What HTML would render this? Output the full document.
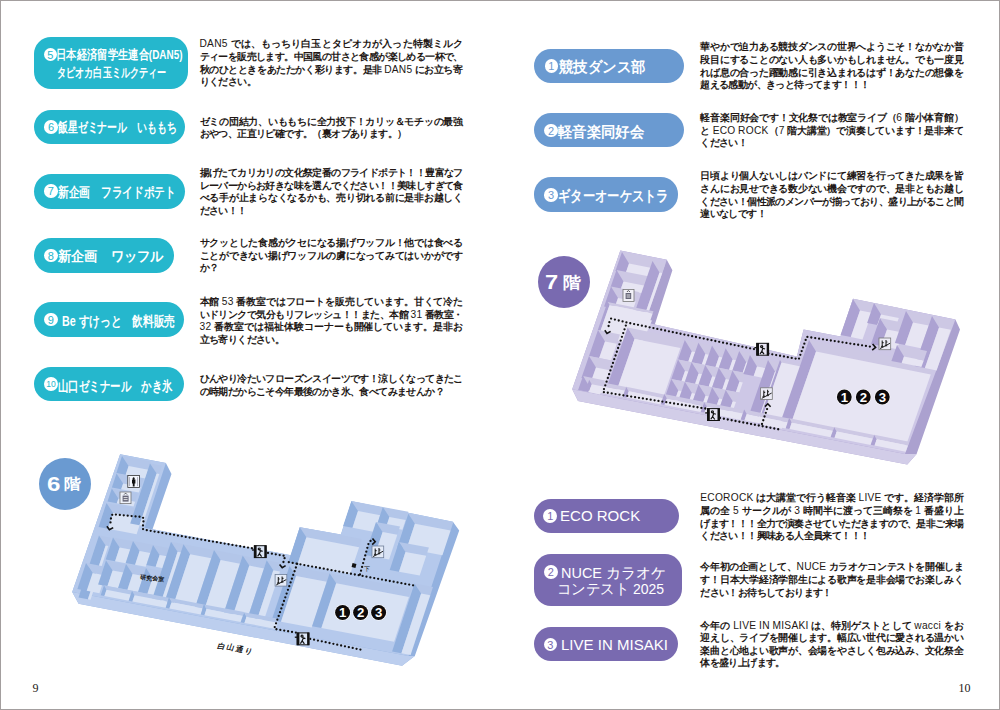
<!DOCTYPE html>
<html lang="ja"><head><meta charset="utf-8"><title>page</title>
<style>
html,body{margin:0;padding:0;background:#fff}
body{width:1000px;height:710px;position:relative;overflow:hidden;font-family:"Liberation Sans",sans-serif;color:#231815}
.frame{position:absolute;left:0;top:0;width:998px;height:708px;border:1px solid #a39e9e;z-index:10}
.pill{position:absolute}
.cn{position:absolute;background:#fff;border-radius:50%;text-align:center;font-family:"Liberation Sans",sans-serif}
.pt{position:absolute;color:#fff;white-space:nowrap;line-height:1;transform-origin:0 0;font-weight:bold}
.ln{position:absolute;font-size:10px;letter-spacing:-0.6px;font-weight:bold;line-height:12.6px;height:12.6px;white-space:nowrap;text-align:justify;text-align-last:justify;overflow:visible}
.lt{font-weight:normal;font-size:10.2px;letter-spacing:0.25px}
.ln.last{text-align:left;text-align-last:left}
.fl{position:absolute;border-radius:50%;color:#fff;text-align:center;font-weight:bold}
.pg{position:absolute;font-family:"Liberation Serif",serif;font-size:12px;line-height:12px;color:#231815}
svg{position:absolute;left:0;top:0}
</style></head><body>
<div class="frame"></div>

<svg width="1000" height="710" viewBox="0 0 1000 710">
<polygon points="120.1,454.2 165.9,463.0 171.5,473.9 152.5,529.3 291.0,555.3 299.8,527.2 340.9,534.5 351.6,501.3 452.9,521.7 459.2,530.6 414.8,655.9 402.1,665.8 78.6,603.7 72.2,592.0" fill="#93b1df"/>
<polygon points="72.2,592.0 408.5,656.0 414.8,655.9 402.1,665.8 78.6,603.7" fill="#bcceee"/>
<polygon points="120.1,454.2 165.9,463.0 144.5,527.8 291.0,555.3 299.8,527.2 340.9,534.5 351.6,501.3 452.9,521.7 408.5,656.0 72.2,592.0" fill="#b5c9ec"/>
<polygon points="620.3,250.6 666.8,259.7 672.4,270.3 654.8,324.5 796.9,356.4 803.6,329.4 840.5,336.5 853.0,298.7 955.4,319.6 960.0,329.5 916.6,453.9 907.3,464.6 578.0,401.0 572.2,389.2" fill="#aba1cf"/>
<polygon points="572.2,389.2 905.0,454.1 916.6,453.9 907.3,464.6 578.0,401.0" fill="#d2cde8"/>
<polygon points="620.3,250.6 666.8,259.7 645.1,322.3 796.9,356.4 803.6,329.4 840.5,336.5 853.0,298.7 955.4,319.6 905.0,454.1 572.2,389.2" fill="#cdc7e6"/>
<polygon points="122.0,456.0 151.0,461.5 148.3,469.7 128.6,466.0" fill="#b3c6e9"/>
<polygon points="122.0,456.0 128.6,466.0 125.7,474.8 116.4,473.0" fill="#91b0de"/>
<polygon points="128.6,466.0 148.3,469.7 145.4,478.5 125.7,474.8" fill="#d8e2f4"/>
<polygon points="116.5,473.5 143.5,478.6 140.8,486.9 123.1,483.5" fill="#b3c6e9"/>
<polygon points="116.5,473.5 123.1,483.5 121.2,489.3 111.9,487.5" fill="#91b0de"/>
<polygon points="123.1,483.5 140.8,486.9 138.9,492.6 121.2,489.3" fill="#d8e2f4"/>
<polygon points="111.8,488.5 137.8,493.4 135.1,501.7 118.4,498.5" fill="#b3c6e9"/>
<polygon points="111.8,488.5 118.4,498.5 116.8,503.3 107.5,501.5" fill="#91b0de"/>
<polygon points="118.4,498.5 135.1,501.7 133.5,506.4 116.8,503.3" fill="#d8e2f4"/>
<polygon points="106.5,503.0 144.5,510.2 141.8,518.4 113.1,513.0" fill="#b3c6e9"/>
<polygon points="106.5,503.0 113.1,513.0 107.9,528.8 98.6,527.0" fill="#91b0de"/>
<polygon points="113.1,513.0 141.8,518.4 136.6,534.2 107.9,528.8" fill="#d8e2f4"/>
<polygon points="150.0,463.5 162.0,465.8 159.3,474.0 156.6,473.5" fill="#b3c6e9"/>
<polygon points="150.0,463.5 156.6,473.5 139.5,525.3 130.2,523.5" fill="#91b0de"/>
<polygon points="156.6,473.5 159.3,474.0 142.2,525.8 139.5,525.3" fill="#d8e2f4"/>
<polygon points="99.0,535.5 111.0,537.8 108.3,546.0 105.6,545.5" fill="#b3c6e9"/>
<polygon points="99.0,535.5 105.6,545.5 87.9,599.3 78.5,597.5" fill="#91b0de"/>
<polygon points="105.6,545.5 108.3,546.0 90.5,599.8 87.9,599.3" fill="#d8e2f4"/>
<polygon points="86.0,563.0 108.0,567.2 105.3,575.4 92.6,573.0" fill="#b3c6e9"/>
<polygon points="86.0,563.0 92.6,573.0 86.7,590.8 77.4,589.0" fill="#91b0de"/>
<polygon points="92.6,573.0 105.3,575.4 99.4,593.2 86.7,590.8" fill="#d8e2f4"/>
<polygon points="113.0,537.5 133.0,541.3 130.3,549.5 119.6,547.5" fill="#b3c6e9"/>
<polygon points="113.0,537.5 119.6,547.5 115.1,561.3 105.7,559.5" fill="#91b0de"/>
<polygon points="119.6,547.5 130.3,549.5 125.7,563.3 115.1,561.3" fill="#d8e2f4"/>
<polygon points="133.0,541.0 153.0,544.8 150.3,553.0 139.6,551.0" fill="#b3c6e9"/>
<polygon points="133.0,541.0 139.6,551.0 135.1,564.8 125.7,563.0" fill="#91b0de"/>
<polygon points="139.6,551.0 150.3,553.0 145.7,566.8 135.1,564.8" fill="#d8e2f4"/>
<polygon points="153.0,545.0 171.0,548.4 168.3,556.6 159.6,555.0" fill="#b3c6e9"/>
<polygon points="153.0,545.0 159.6,555.0 155.7,566.8 146.4,565.0" fill="#91b0de"/>
<polygon points="159.6,555.0 168.3,556.6 164.4,568.4 155.7,566.8" fill="#d8e2f4"/>
<polygon points="106.0,560.5 126.0,564.3 123.3,572.5 112.6,570.5" fill="#b3c6e9"/>
<polygon points="106.0,560.5 112.6,570.5 107.4,586.3 98.1,584.5" fill="#91b0de"/>
<polygon points="112.6,570.5 123.3,572.5 118.1,588.3 107.4,586.3" fill="#d8e2f4"/>
<polygon points="126.0,564.0 146.0,567.8 143.3,576.0 132.6,574.0" fill="#b3c6e9"/>
<polygon points="126.0,564.0 132.6,574.0 127.4,589.8 118.1,588.0" fill="#91b0de"/>
<polygon points="132.6,574.0 143.3,576.0 138.1,591.8 127.4,589.8" fill="#d8e2f4"/>
<polygon points="146.0,568.0 166.0,571.8 163.3,580.0 152.6,578.0" fill="#b3c6e9"/>
<polygon points="146.0,568.0 152.6,578.0 147.4,593.8 138.1,592.0" fill="#91b0de"/>
<polygon points="152.6,578.0 163.3,580.0 158.1,595.8 147.4,593.8" fill="#d8e2f4"/>
<polygon points="171.0,541.8 184.0,544.3 181.3,552.5 177.6,551.8" fill="#b3c6e9"/>
<polygon points="171.0,541.8 177.6,551.8 160.2,604.6 150.9,602.8" fill="#91b0de"/>
<polygon points="177.6,551.8 181.3,552.5 163.9,605.3 160.2,604.6" fill="#d8e2f4"/>
<polygon points="183.5,544.3 214.0,550.1 211.3,558.3 190.1,554.3" fill="#b3c6e9"/>
<polygon points="183.5,544.3 190.1,554.3 173.7,604.1 164.4,602.3" fill="#91b0de"/>
<polygon points="190.1,554.3 211.3,558.3 194.9,608.1 173.7,604.1" fill="#d8e2f4"/>
<polygon points="214.0,550.1 242.7,555.6 240.0,563.8 220.6,560.1" fill="#b3c6e9"/>
<polygon points="214.0,550.1 220.6,560.1 204.2,609.9 194.9,608.1" fill="#91b0de"/>
<polygon points="220.6,560.1 240.0,563.8 223.6,613.6 204.2,609.9" fill="#d8e2f4"/>
<polygon points="242.7,555.6 266.7,560.2 264.0,568.4 249.3,565.6" fill="#b3c6e9"/>
<polygon points="242.7,555.6 249.3,565.6 232.9,615.4 223.6,613.6" fill="#91b0de"/>
<polygon points="249.3,565.6 264.0,568.4 247.6,618.2 232.9,615.4" fill="#d8e2f4"/>
<polygon points="266.7,560.2 282.7,563.2 280.0,571.5 273.3,570.2" fill="#b3c6e9"/>
<polygon points="266.7,560.2 273.3,570.2 256.9,620.0 247.6,618.2" fill="#91b0de"/>
<polygon points="273.3,570.2 280.0,571.5 263.6,621.2 256.9,620.0" fill="#d8e2f4"/>
<polygon points="289.5,566.0 329.5,573.6 326.8,581.8 296.1,576.0" fill="#b3c6e9"/>
<polygon points="289.5,566.0 296.1,576.0 281.0,621.8 271.7,620.0" fill="#91b0de"/>
<polygon points="296.1,576.0 326.8,581.8 311.7,627.6 281.0,621.8" fill="#d8e2f4"/>
<polygon points="329.6,573.2 411.6,588.8 408.9,597.0 336.2,583.2" fill="#b3c6e9"/>
<polygon points="329.6,573.2 336.2,583.2 321.4,628.0 312.1,626.2" fill="#91b0de"/>
<polygon points="336.2,583.2 408.9,597.0 394.1,641.8 321.4,628.0" fill="#d8e2f4"/>
<polygon points="299.8,527.2 361.8,539.0 359.1,547.2 306.4,537.2" fill="#b3c6e9"/>
<polygon points="299.8,527.2 306.4,537.2 297.6,564.0 288.2,562.2" fill="#91b0de"/>
<polygon points="306.4,537.2 359.1,547.2 350.2,574.0 297.6,564.0" fill="#d8e2f4"/>
<polygon points="351.4,501.0 382.9,507.0 380.2,515.2 358.0,511.0" fill="#b3c6e9"/>
<polygon points="351.4,501.0 358.0,511.0 352.5,527.8 343.1,526.0" fill="#91b0de"/>
<polygon points="358.0,511.0 380.2,515.2 374.6,532.0 352.5,527.8" fill="#d8e2f4"/>
<polygon points="382.8,507.0 408.3,511.8 405.6,520.1 389.4,517.0" fill="#b3c6e9"/>
<polygon points="382.8,507.0 389.4,517.0 386.2,526.8 376.9,525.0" fill="#91b0de"/>
<polygon points="389.4,517.0 405.6,520.1 402.4,529.8 386.2,526.8" fill="#d8e2f4"/>
<polygon points="408.3,513.7 453.3,522.2 450.6,530.5 414.9,523.7" fill="#b3c6e9"/>
<polygon points="408.3,513.7 414.9,523.7 406.7,548.5 397.4,546.7" fill="#91b0de"/>
<polygon points="414.9,523.7 450.6,530.5 442.4,555.2 406.7,548.5" fill="#d8e2f4"/>
<polygon points="376.0,522.0 400.0,526.6 397.3,534.8 382.6,532.0" fill="#b3c6e9"/>
<polygon points="376.0,522.0 382.6,532.0 374.4,556.8 365.1,555.0" fill="#91b0de"/>
<polygon points="382.6,532.0 397.3,534.8 389.1,559.6 374.4,556.8" fill="#d8e2f4"/>
<polygon points="398.9,541.9 428.9,547.6 426.2,555.8 405.5,551.9" fill="#b3c6e9"/>
<polygon points="398.9,541.9 405.5,551.9 399.0,571.7 389.7,569.9" fill="#91b0de"/>
<polygon points="405.5,551.9 426.2,555.8 419.7,575.6 399.0,571.7" fill="#d8e2f4"/>
<polygon points="414.5,583.5 433.0,587.0 430.3,595.2 421.1,593.5" fill="#b3c6e9"/>
<polygon points="414.5,583.5 421.1,593.5 401.4,653.3 392.1,651.5" fill="#91b0de"/>
<polygon points="421.1,593.5 430.3,595.2 410.6,655.0 401.4,653.3" fill="#d8e2f4"/>
<polygon points="104.0,585.3 132.0,590.7 130.7,594.4 106.5,589.8" fill="#b3c6e9"/>
<polygon points="104.0,585.3 106.5,589.8 104.4,596.1 100.7,595.3" fill="#91b0de"/>
<polygon points="106.5,589.8 130.7,594.4 128.7,600.7 104.4,596.1" fill="#d8e2f4"/>
<polygon points="132.0,590.7 169.0,597.7 167.7,601.5 134.5,595.2" fill="#b3c6e9"/>
<polygon points="132.0,590.7 134.5,595.2 132.4,601.4 128.7,600.7" fill="#91b0de"/>
<polygon points="134.5,595.2 167.7,601.5 165.7,607.7 132.4,601.4" fill="#d8e2f4"/>
<polygon points="169.0,597.8 204.0,604.5 202.7,608.3 171.5,602.3" fill="#b3c6e9"/>
<polygon points="169.0,597.8 171.5,602.3 169.4,608.5 165.7,607.8" fill="#91b0de"/>
<polygon points="171.5,602.3 202.7,608.3 200.7,614.5 169.4,608.5" fill="#d8e2f4"/>
<polygon points="204.0,604.5 244.0,612.1 242.7,615.9 206.5,609.0" fill="#b3c6e9"/>
<polygon points="204.0,604.5 206.5,609.0 204.4,615.3 200.7,614.5" fill="#91b0de"/>
<polygon points="206.5,609.0 242.7,615.9 240.7,622.1 204.4,615.3" fill="#d8e2f4"/>
<polygon points="244.0,612.2 279.0,618.9 277.7,622.7 246.5,616.7" fill="#b3c6e9"/>
<polygon points="244.0,612.2 246.5,616.7 244.4,622.9 240.7,622.2" fill="#91b0de"/>
<polygon points="246.5,616.7 277.7,622.7 275.7,628.9 244.4,622.9" fill="#d8e2f4"/>
<polygon points="611.5,312.5 652.0,320.5 641.0,345.0 603.0,338.0" fill="#e7e5f3"/>
<polygon points="622.0,252.0 655.0,258.6 651.8,268.0 629.0,263.4" fill="#cdc8e4"/>
<polygon points="622.0,252.0 629.0,263.4 625.7,273.0 615.4,271.0" fill="#aca2d2"/>
<polygon points="629.0,263.4 651.8,268.0 648.4,277.6 625.7,273.0" fill="#e7e5f3"/>
<polygon points="616.5,270.0 649.5,276.6 646.3,286.0 623.5,281.4" fill="#cdc8e4"/>
<polygon points="616.5,270.0 623.5,281.4 620.8,289.0 610.6,287.0" fill="#aca2d2"/>
<polygon points="623.5,281.4 646.3,286.0 643.6,293.6 620.8,289.0" fill="#e7e5f3"/>
<polygon points="611.0,286.5 639.0,292.1 635.8,301.5 618.0,297.9" fill="#cdc8e4"/>
<polygon points="611.0,286.5 618.0,297.9 614.3,308.5 604.1,306.5" fill="#aca2d2"/>
<polygon points="618.0,297.9 635.8,301.5 632.1,312.1 614.3,308.5" fill="#e7e5f3"/>
<polygon points="652.5,261.0 665.5,263.6 662.3,273.0 659.5,272.4" fill="#cdc8e4"/>
<polygon points="652.5,261.0 659.5,272.4 643.7,318.0 633.4,316.0" fill="#aca2d2"/>
<polygon points="659.5,272.4 662.3,273.0 646.4,318.6 643.7,318.0" fill="#e7e5f3"/>
<polygon points="607.5,302.0 653.5,311.2 652.7,313.6 609.5,305.0" fill="#cdc8e4"/>
<polygon points="607.5,302.0 609.5,305.0 600.6,330.6 597.8,330.0" fill="#aca2d2"/>
<polygon points="609.5,305.0 652.7,313.6 643.8,339.2 600.6,330.6" fill="#e7e5f3"/>
<polygon points="598.0,330.0 620.0,334.4 616.8,343.8 605.0,341.4" fill="#cdc8e4"/>
<polygon points="598.0,330.0 605.0,341.4 599.2,358.0 589.0,356.0" fill="#aca2d2"/>
<polygon points="605.0,341.4 616.8,343.8 611.0,360.4 599.2,358.0" fill="#e7e5f3"/>
<polygon points="589.0,356.0 613.0,360.8 609.8,370.2 596.0,367.4" fill="#cdc8e4"/>
<polygon points="589.0,356.0 596.0,367.4 591.6,380.0 581.4,378.0" fill="#aca2d2"/>
<polygon points="596.0,367.4 609.8,370.2 605.4,382.8 591.6,380.0" fill="#e7e5f3"/>
<polygon points="583.0,376.0 605.0,380.4 601.8,389.8 590.0,387.4" fill="#cdc8e4"/>
<polygon points="583.0,376.0 590.0,387.4 588.4,392.0 578.1,390.0" fill="#aca2d2"/>
<polygon points="590.0,387.4 601.8,389.8 600.1,394.4 588.4,392.0" fill="#e7e5f3"/>
<polygon points="627.6,327.5 683.6,338.7 680.4,348.1 634.6,338.9" fill="#cdc8e4"/>
<polygon points="627.6,327.5 634.6,338.9 617.0,389.5 606.8,387.5" fill="#aca2d2"/>
<polygon points="634.6,338.9 680.4,348.1 662.8,398.7 617.0,389.5" fill="#e7e5f3"/>
<polygon points="684.8,340.0 698.4,342.7 695.2,352.1 691.8,351.4" fill="#cdc8e4"/>
<polygon points="684.8,340.0 691.8,351.4 688.3,361.5 678.0,359.5" fill="#aca2d2"/>
<polygon points="691.8,351.4 695.2,352.1 691.6,362.2 688.3,361.5" fill="#e7e5f3"/>
<polygon points="698.4,342.7 712.0,345.4 708.8,354.8 705.4,354.1" fill="#cdc8e4"/>
<polygon points="698.4,342.7 705.4,354.1 701.9,364.3 691.6,362.2" fill="#aca2d2"/>
<polygon points="705.4,354.1 708.8,354.8 705.2,364.9 701.9,364.3" fill="#e7e5f3"/>
<polygon points="712.0,345.4 725.6,348.2 722.4,357.5 719.0,356.8" fill="#cdc8e4"/>
<polygon points="712.0,345.4 719.0,356.8 715.5,367.0 705.2,364.9" fill="#aca2d2"/>
<polygon points="719.0,356.8 722.4,357.5 718.8,367.7 715.5,367.0" fill="#e7e5f3"/>
<polygon points="725.6,348.2 739.2,350.9 736.0,360.2 732.6,359.6" fill="#cdc8e4"/>
<polygon points="725.6,348.2 732.6,359.6 729.1,369.7 718.8,367.7" fill="#aca2d2"/>
<polygon points="732.6,359.6 736.0,360.2 732.4,370.4 729.1,369.7" fill="#e7e5f3"/>
<polygon points="739.2,350.9 752.8,353.6 749.6,363.0 746.2,362.3" fill="#cdc8e4"/>
<polygon points="739.2,350.9 746.2,362.3 742.7,372.4 732.4,370.4" fill="#aca2d2"/>
<polygon points="746.2,362.3 749.6,363.0 746.0,373.1 742.7,372.4" fill="#e7e5f3"/>
<polygon points="678.0,359.5 691.6,362.2 688.4,371.6 685.0,370.9" fill="#cdc8e4"/>
<polygon points="678.0,359.5 685.0,370.9 681.5,381.0 671.3,379.0" fill="#aca2d2"/>
<polygon points="685.0,370.9 688.4,371.6 684.9,381.7 681.5,381.0" fill="#e7e5f3"/>
<polygon points="691.6,362.2 705.2,364.9 702.0,374.3 698.6,373.6" fill="#cdc8e4"/>
<polygon points="691.6,362.2 698.6,373.6 695.1,383.8 684.9,381.7" fill="#aca2d2"/>
<polygon points="698.6,373.6 702.0,374.3 698.5,384.4 695.1,383.8" fill="#e7e5f3"/>
<polygon points="705.2,364.9 718.8,367.7 715.6,377.0 712.2,376.3" fill="#cdc8e4"/>
<polygon points="705.2,364.9 712.2,376.3 708.7,386.5 698.5,384.4" fill="#aca2d2"/>
<polygon points="712.2,376.3 715.6,377.0 712.1,387.2 708.7,386.5" fill="#e7e5f3"/>
<polygon points="718.8,367.7 732.4,370.4 729.2,379.7 725.8,379.1" fill="#cdc8e4"/>
<polygon points="718.8,367.7 725.8,379.1 722.3,389.2 712.1,387.2" fill="#aca2d2"/>
<polygon points="725.8,379.1 729.2,379.7 725.7,389.9 722.3,389.2" fill="#e7e5f3"/>
<polygon points="732.4,370.4 746.0,373.1 742.8,382.5 739.4,381.8" fill="#cdc8e4"/>
<polygon points="732.4,370.4 739.4,381.8 735.9,391.9 725.7,389.9" fill="#aca2d2"/>
<polygon points="739.4,381.8 742.8,382.5 739.3,392.6 735.9,391.9" fill="#e7e5f3"/>
<polygon points="671.3,379.0 684.9,381.7 681.6,391.1 678.3,390.4" fill="#cdc8e4"/>
<polygon points="671.3,379.0 678.3,390.4 674.7,400.5 664.5,398.5" fill="#aca2d2"/>
<polygon points="678.3,390.4 681.6,391.1 678.1,401.2 674.7,400.5" fill="#e7e5f3"/>
<polygon points="684.9,381.7 698.5,384.4 695.2,393.8 691.9,393.1" fill="#cdc8e4"/>
<polygon points="684.9,381.7 691.9,393.1 688.3,403.3 678.1,401.2" fill="#aca2d2"/>
<polygon points="691.9,393.1 695.2,393.8 691.7,403.9 688.3,403.3" fill="#e7e5f3"/>
<polygon points="698.5,384.4 712.1,387.2 708.8,396.5 705.5,395.8" fill="#cdc8e4"/>
<polygon points="698.5,384.4 705.5,395.8 701.9,406.0 691.7,403.9" fill="#aca2d2"/>
<polygon points="705.5,395.8 708.8,396.5 705.3,406.7 701.9,406.0" fill="#e7e5f3"/>
<polygon points="712.1,387.2 725.7,389.9 722.4,399.2 719.1,398.6" fill="#cdc8e4"/>
<polygon points="712.1,387.2 719.1,398.6 715.5,408.7 705.3,406.7" fill="#aca2d2"/>
<polygon points="719.1,398.6 722.4,399.2 718.9,409.4 715.5,408.7" fill="#e7e5f3"/>
<polygon points="725.7,389.9 739.3,392.6 736.0,402.0 732.7,401.3" fill="#cdc8e4"/>
<polygon points="725.7,389.9 732.7,401.3 729.1,411.4 718.9,409.4" fill="#aca2d2"/>
<polygon points="732.7,401.3 736.0,402.0 732.5,412.1 729.1,411.4" fill="#e7e5f3"/>
<polygon points="750.0,355.0 770.0,359.0 766.8,368.4 757.0,366.4" fill="#cdc8e4"/>
<polygon points="750.0,355.0 757.0,366.4 753.7,376.0 743.4,374.0" fill="#aca2d2"/>
<polygon points="757.0,366.4 766.8,368.4 763.4,378.0 753.7,376.0" fill="#e7e5f3"/>
<polygon points="768.0,360.0 780.0,362.4 776.8,371.8 775.0,371.4" fill="#cdc8e4"/>
<polygon points="768.0,360.0 775.0,371.4 758.1,420.0 747.9,418.0" fill="#aca2d2"/>
<polygon points="775.0,371.4 776.8,371.8 759.9,420.4 758.1,420.0" fill="#e7e5f3"/>
<polygon points="780.0,360.0 804.0,364.8 803.3,366.9 781.5,362.5" fill="#cdc8e4"/>
<polygon points="780.0,360.0 781.5,362.5 760.0,424.4 757.8,424.0" fill="#aca2d2"/>
<polygon points="781.5,362.5 803.3,366.9 781.8,428.8 760.0,424.4" fill="#e7e5f3"/>
<polygon points="809.0,340.0 934.0,365.0 930.8,374.4 816.0,351.4" fill="#cdc8e4"/>
<polygon points="809.0,340.0 816.0,351.4 790.8,424.0 780.5,422.0" fill="#aca2d2"/>
<polygon points="816.0,351.4 930.8,374.4 905.5,447.0 790.8,424.0" fill="#e7e5f3"/>
<polygon points="853.0,299.0 875.0,303.4 871.8,312.8 860.0,310.4" fill="#cdc8e4"/>
<polygon points="853.0,299.0 860.0,310.4 850.8,337.0 840.5,335.0" fill="#aca2d2"/>
<polygon points="860.0,310.4 871.8,312.8 862.5,339.4 850.8,337.0" fill="#e7e5f3"/>
<polygon points="874.0,303.0 902.0,308.6 898.8,318.0 881.0,314.4" fill="#cdc8e4"/>
<polygon points="874.0,303.0 881.0,314.4 877.3,325.0 867.1,323.0" fill="#aca2d2"/>
<polygon points="881.0,314.4 898.8,318.0 895.1,328.6 877.3,325.0" fill="#e7e5f3"/>
<polygon points="880.0,318.0 906.0,323.2 902.8,332.6 887.0,329.4" fill="#cdc8e4"/>
<polygon points="880.0,318.0 887.0,329.4 881.2,346.0 871.0,344.0" fill="#aca2d2"/>
<polygon points="887.0,329.4 902.8,332.6 897.0,349.2 881.2,346.0" fill="#e7e5f3"/>
<polygon points="906.0,311.0 932.0,316.2 928.8,325.6 913.0,322.4" fill="#cdc8e4"/>
<polygon points="906.0,311.0 913.0,322.4 905.1,345.0 894.9,343.0" fill="#aca2d2"/>
<polygon points="913.0,322.4 928.8,325.6 920.9,348.2 905.1,345.0" fill="#e7e5f3"/>
<polygon points="932.0,316.0 954.0,320.4 950.8,329.8 939.0,327.4" fill="#cdc8e4"/>
<polygon points="932.0,316.0 939.0,327.4 924.9,368.0 914.6,366.0" fill="#aca2d2"/>
<polygon points="939.0,327.4 950.8,329.8 936.6,370.4 924.9,368.0" fill="#e7e5f3"/>
<polygon points="897.0,345.0 927.0,351.0 923.8,360.4 904.0,356.4" fill="#cdc8e4"/>
<polygon points="897.0,345.0 904.0,356.4 901.7,363.0 891.4,361.0" fill="#aca2d2"/>
<polygon points="904.0,356.4 923.8,360.4 921.4,367.0 901.7,363.0" fill="#e7e5f3"/>
<polygon points="589.2,379.7 626.2,387.1 624.9,390.8 591.7,384.2" fill="#cdc8e4"/>
<polygon points="589.2,379.7 591.7,384.2 589.5,390.4 585.7,389.7" fill="#aca2d2"/>
<polygon points="591.7,384.2 624.9,390.8 622.7,397.1 589.5,390.4" fill="#e7e5f3"/>
<polygon points="626.2,386.8 664.2,394.4 662.9,398.2 628.7,391.3" fill="#cdc8e4"/>
<polygon points="626.2,386.8 628.7,391.3 626.5,397.6 622.7,396.8" fill="#aca2d2"/>
<polygon points="628.7,391.3 662.9,398.2 660.7,404.4 626.5,397.6" fill="#e7e5f3"/>
<polygon points="664.2,394.1 704.2,402.1 702.9,405.9 666.7,398.6" fill="#cdc8e4"/>
<polygon points="664.2,394.1 666.7,398.6 664.5,404.9 660.7,404.1" fill="#aca2d2"/>
<polygon points="666.7,398.6 702.9,405.9 700.7,412.1 664.5,404.9" fill="#e7e5f3"/>
<polygon points="704.2,401.9 744.2,409.9 742.9,413.6 706.7,406.4" fill="#cdc8e4"/>
<polygon points="704.2,401.9 706.7,406.4 704.5,412.6 700.7,411.9" fill="#aca2d2"/>
<polygon points="706.7,406.4 742.9,413.6 740.7,419.9 704.5,412.6" fill="#e7e5f3"/>
<polygon points="744.2,409.6 789.2,418.6 787.9,422.3 746.7,414.1" fill="#cdc8e4"/>
<polygon points="744.2,409.6 746.7,414.1 744.5,420.3 740.7,419.6" fill="#aca2d2"/>
<polygon points="746.7,414.1 787.9,422.3 785.7,428.6 744.5,420.3" fill="#e7e5f3"/>
<polygon points="789.2,418.3 834.2,427.3 832.9,431.0 791.7,422.8" fill="#cdc8e4"/>
<polygon points="789.2,418.3 791.7,422.8 789.5,429.0 785.7,428.3" fill="#aca2d2"/>
<polygon points="791.7,422.8 832.9,431.0 830.7,437.3 789.5,429.0" fill="#e7e5f3"/>
<polygon points="834.2,427.0 874.2,435.0 872.9,438.7 836.7,431.5" fill="#cdc8e4"/>
<polygon points="834.2,427.0 836.7,431.5 834.5,437.7 830.7,437.0" fill="#aca2d2"/>
<polygon points="836.7,431.5 872.9,438.7 870.7,445.0 834.5,437.7" fill="#e7e5f3"/>
<polygon points="874.2,434.7 909.2,441.7 907.9,445.4 876.7,439.2" fill="#cdc8e4"/>
<polygon points="874.2,434.7 876.7,439.2 874.5,445.4 870.7,444.7" fill="#aca2d2"/>
<polygon points="876.7,439.2 907.9,445.4 905.7,451.7 874.5,445.4" fill="#e7e5f3"/>
<path d="M110.5,522.4 L111.2,516.5 L112.6,514.3 L142.2,517.0 L143.8,518.5 L142.6,528.8 L144.5,529.8 L254.0,548.6" fill="none" stroke="#111" stroke-width="2.3" stroke-linecap="round" stroke-linejoin="round" stroke-dasharray="0 3.95"/>
<path d="M268.0,553.0 L285.2,556.0 L284.0,560.2 L282.8,564.2" fill="none" stroke="#111" stroke-width="2.3" stroke-linecap="round" stroke-linejoin="round" stroke-dasharray="0 3.95"/>
<path d="M279.6,564.6 L282.2,567.6 L285.6,565.6" fill="none" stroke="#111" stroke-width="1.6" stroke-linecap="butt" stroke-linejoin="miter"/>
<path d="M288.8,562.2 L414.0,585.5" fill="none" stroke="#111" stroke-width="2.3" stroke-linecap="round" stroke-linejoin="round" stroke-dasharray="0 3.95"/>
<path d="M297.2,563.8 L274.2,628.6 L276.0,629.2 L296.0,632.6" fill="none" stroke="#111" stroke-width="2.3" stroke-linecap="round" stroke-linejoin="round" stroke-dasharray="0 3.95"/>
<path d="M310.2,638.9 L363.7,650.3" fill="none" stroke="#111" stroke-width="2.3" stroke-linecap="round" stroke-linejoin="round" stroke-dasharray="0 3.95"/>
<path d="M360.0,574.5 L368.8,542.5 L371.0,540.5 L372.4,541.0" fill="none" stroke="#111" stroke-width="2.3" stroke-linecap="round" stroke-linejoin="round" stroke-dasharray="0 3.95"/>
<path d="M372.5,538.6 L375.2,541.8 L372.2,544.6" fill="none" stroke="#111" stroke-width="1.6" stroke-linecap="butt" stroke-linejoin="miter"/>
<path d="M106.9,526.2 L109.4,529.8 L113.2,527.6" fill="none" stroke="#111" stroke-width="1.6" stroke-linecap="butt" stroke-linejoin="miter"/>
<g transform="translate(254.0,545.4)"><rect x="0" y="0" width="12.5" height="12.5" fill="#dce6f6"/><rect x="0.3" y="0.3" width="11.9" height="11.9" fill="none" stroke="#111" stroke-width="1"/><rect x="0" y="0" width="2.6" height="12.5" fill="#111"/><rect x="10.3" y="0" width="2.2" height="12.5" fill="#111"/><path d="M5.2,2.6 a1,1 0 1,0 0.1,0 M4.8,4.2 L6.6,5.2 L8.6,6.0 M6.6,5.2 L5.4,8.2 L7.6,11.2 M5.4,8.2 L3.6,11" stroke="#111" stroke-width="1.2" fill="none"/><path d="M-2,4.6 L2,4.6" stroke="#111" stroke-width="1.3"/></g>
<g transform="translate(296.8,632.6)"><rect x="0" y="0" width="12.5" height="12.5" fill="#dce6f6"/><rect x="0.3" y="0.3" width="11.9" height="11.9" fill="none" stroke="#111" stroke-width="1"/><rect x="0" y="0" width="2.6" height="12.5" fill="#111"/><rect x="10.3" y="0" width="2.2" height="12.5" fill="#111"/><path d="M5.2,2.6 a1,1 0 1,0 0.1,0 M4.8,4.2 L6.6,5.2 L8.6,6.0 M6.6,5.2 L5.4,8.2 L7.6,11.2 M5.4,8.2 L3.6,11" stroke="#111" stroke-width="1.2" fill="none"/><path d="M-2,4.6 L2,4.6" stroke="#111" stroke-width="1.3"/></g>
<g transform="translate(371.6,545.6)"><rect x="0.4" y="0.4" width="11.7" height="11.7" fill="#e4ebf8" stroke="#6f7f99" stroke-width="0.8"/><path d="M1.5,11.0 L11.5,5.625" stroke="#222" stroke-width="1"/><path d="M3.6,3 L3.6,8 M3.2,5 L5,5 M3.6,8 L2.6,9.8 M3.6,8 L4.6,9.6 M7.4,2.4 L7.4,7 M7,4.4 L8.8,4.4 M7.4,7 L6.6,8.8 M7.4,7 L8.4,8.6" stroke="#222" stroke-width="1.1" fill="none"/></g>
<g transform="translate(274.7,574.0)"><rect x="0.4" y="0.4" width="11.7" height="11.7" fill="#e4ebf8" stroke="#6f7f99" stroke-width="0.8"/><path d="M1.5,11.0 L11.5,5.625" stroke="#222" stroke-width="1"/><path d="M3.6,3 L3.6,8 M3.2,5 L5,5 M3.6,8 L2.6,9.8 M3.6,8 L4.6,9.6 M7.4,2.4 L7.4,7 M7,4.4 L8.8,4.4 M7.4,7 L6.6,8.8 M7.4,7 L8.4,8.6" stroke="#222" stroke-width="1.1" fill="none"/></g>
<g transform="translate(127.4,475.1)"><rect x="0.4" y="0.4" width="11.6" height="12.0" fill="#f4f7fd" stroke="#333" stroke-width="0.8"/><path d="M6.2,2.2 a1.1,1.1 0 1,0 0.1,0 M4.6,4.4 h3.4 v4 h-0.8 v3 h-1.8 v-3 h-0.8 z" fill="#111"/><rect x="2" y="2" width="0.6" height="9" fill="#889"/><rect x="9.8" y="2" width="0.6" height="9" fill="#889"/></g>
<g transform="translate(119.6,491.6)"><rect x="0.4" y="0.4" width="11.0" height="11.6" fill="#eef2fa" stroke="#777" stroke-width="0.8"/><path d="M3,4 h6 v6 h-6 z" fill="#667" /><path d="M4,6 h4 M4,8 h4" stroke="#fff" stroke-width="0.8"/><path d="M6,1.5 L4.5,3 M6,1.5 L7.5,3" stroke="#333" stroke-width="0.8" fill="none"/></g>
<rect x="352" y="563.5" width="4" height="4" fill="#111" transform="rotate(15 354 565.5)"/>
<text x="364" y="571" font-size="5.5" fill="#222" font-family="Liberation Sans">下</text>
<text x="140.5" y="579.2" font-size="6" font-weight="bold" fill="#111" transform="rotate(6 140 578)" font-family="Liberation Sans">研究会室</text>
<g transform="translate(217.4,647.6) rotate(10.5) skewX(-8)"><text x="0" y="0" font-size="7.6" font-weight="bold" fill="#111" font-family="Liberation Sans" letter-spacing="1.2">白山通り</text></g>
<circle cx="342.6" cy="612.5" r="8.1" fill="#fff"/><circle cx="342.6" cy="612.5" r="7.5" fill="#0d0a0b"/>
<text x="342.6" y="617.2" text-anchor="middle" font-family="Liberation Sans" font-weight="bold" font-size="13.2" fill="#fff">1</text>
<circle cx="360.6" cy="612.5" r="8.1" fill="#fff"/><circle cx="360.6" cy="612.5" r="7.5" fill="#0d0a0b"/>
<text x="360.6" y="617.2" text-anchor="middle" font-family="Liberation Sans" font-weight="bold" font-size="13.2" fill="#fff">2</text>
<circle cx="378.6" cy="612.5" r="8.1" fill="#fff"/><circle cx="378.6" cy="612.5" r="7.5" fill="#0d0a0b"/>
<text x="378.6" y="617.2" text-anchor="middle" font-family="Liberation Sans" font-weight="bold" font-size="13.2" fill="#fff">3</text>
<path d="M608.6,326.0 L609.6,321.0 L611.1,318.6 L627.2,322.6 L756.4,349.6" fill="none" stroke="#111" stroke-width="2.3" stroke-linecap="round" stroke-linejoin="round" stroke-dasharray="0 3.95"/>
<path d="M604.8,330.2 L607.0,333.4 L610.6,331.4" fill="none" stroke="#111" stroke-width="1.6" stroke-linecap="butt" stroke-linejoin="miter"/>
<path d="M768.4,353.6 L798.8,359.2 L806.8,336.8 L871.5,346.8" fill="none" stroke="#111" stroke-width="2.3" stroke-linecap="round" stroke-linejoin="round" stroke-dasharray="0 3.95"/>
<path d="M872.6,344.0 L875.6,347.4 L872.2,350.2" fill="none" stroke="#111" stroke-width="1.6" stroke-linecap="butt" stroke-linejoin="miter"/>
<path d="M625.8,325.6 L603.0,392.0 L707.0,408.8" fill="none" stroke="#111" stroke-width="2.3" stroke-linecap="round" stroke-linejoin="round" stroke-dasharray="0 3.95"/>
<path d="M720.0,418.0 L782.0,430.0" fill="none" stroke="#111" stroke-width="2.3" stroke-linecap="round" stroke-linejoin="round" stroke-dasharray="0 3.95"/>
<path d="M762.0,424.0 L767.6,407.5" fill="none" stroke="#111" stroke-width="2.3" stroke-linecap="round" stroke-linejoin="round" stroke-dasharray="0 3.95"/>
<path d="M765.0,406.6 L767.8,403.8 L770.6,406.8" fill="none" stroke="#111" stroke-width="1.6" stroke-linecap="butt" stroke-linejoin="miter"/>
<g transform="translate(756.4,343.0)"><rect x="0" y="0" width="12.5" height="12.5" fill="#e7e5f3"/><rect x="0.3" y="0.3" width="11.9" height="11.9" fill="none" stroke="#111" stroke-width="1"/><rect x="0" y="0" width="2.6" height="12.5" fill="#111"/><rect x="10.3" y="0" width="2.2" height="12.5" fill="#111"/><path d="M5.2,2.6 a1,1 0 1,0 0.1,0 M4.8,4.2 L6.6,5.2 L8.6,6.0 M6.6,5.2 L5.4,8.2 L7.6,11.2 M5.4,8.2 L3.6,11" stroke="#111" stroke-width="1.2" fill="none"/><path d="M-2,4.6 L2,4.6" stroke="#111" stroke-width="1.3"/></g>
<g transform="translate(707.2,408.3)"><rect x="0" y="0" width="12.5" height="12.5" fill="#e7e5f3"/><rect x="0.3" y="0.3" width="11.9" height="11.9" fill="none" stroke="#111" stroke-width="1"/><rect x="0" y="0" width="2.6" height="12.5" fill="#111"/><rect x="10.3" y="0" width="2.2" height="12.5" fill="#111"/><path d="M5.2,2.6 a1,1 0 1,0 0.1,0 M4.8,4.2 L6.6,5.2 L8.6,6.0 M6.6,5.2 L5.4,8.2 L7.6,11.2 M5.4,8.2 L3.6,11" stroke="#111" stroke-width="1.2" fill="none"/><path d="M-2,4.6 L2,4.6" stroke="#111" stroke-width="1.3"/></g>
<g transform="translate(760.2,387.4)"><rect x="0.4" y="0.4" width="11.7" height="11.7" fill="#ecebf6" stroke="#777" stroke-width="0.8"/><path d="M1.5,11.0 L11.5,5.625" stroke="#222" stroke-width="1"/><path d="M3.6,3 L3.6,8 M3.2,5 L5,5 M3.6,8 L2.6,9.8 M3.6,8 L4.6,9.6 M7.4,2.4 L7.4,7 M7,4.4 L8.8,4.4 M7.4,7 L6.6,8.8 M7.4,7 L8.4,8.6" stroke="#222" stroke-width="1.1" fill="none"/></g>
<g transform="translate(878.6,337.6)"><rect x="0.4" y="0.4" width="11.7" height="11.7" fill="#ecebf6" stroke="#777" stroke-width="0.8"/><path d="M1.5,11.0 L11.5,5.625" stroke="#222" stroke-width="1"/><path d="M3.6,3 L3.6,8 M3.2,5 L5,5 M3.6,8 L2.6,9.8 M3.6,8 L4.6,9.6 M7.4,2.4 L7.4,7 M7,4.4 L8.8,4.4 M7.4,7 L6.6,8.8 M7.4,7 L8.4,8.6" stroke="#222" stroke-width="1.1" fill="none"/></g>
<g transform="translate(622.6,289.0)"><rect x="0.4" y="0.4" width="11.0" height="12.0" fill="#f2f1f8" stroke="#777" stroke-width="0.8"/><path d="M3,4 h5.6 v6 h-5.6 z" fill="#667" /><path d="M4,6 h3.6 M4,8 h3.6" stroke="#fff" stroke-width="0.8"/><path d="M5.8,1.5 L4.3,3 M5.8,1.5 L7.3,3" stroke="#333" stroke-width="0.8" fill="none"/></g>
<circle cx="844.3" cy="397.0" r="8.0" fill="#fff"/><circle cx="844.3" cy="397.0" r="7.4" fill="#0d0a0b"/>
<text x="844.3" y="401.7" text-anchor="middle" font-family="Liberation Sans" font-weight="bold" font-size="13.2" fill="#fff">1</text>
<circle cx="863.3" cy="397.0" r="8.0" fill="#fff"/><circle cx="863.3" cy="397.0" r="7.4" fill="#0d0a0b"/>
<text x="863.3" y="401.7" text-anchor="middle" font-family="Liberation Sans" font-weight="bold" font-size="13.2" fill="#fff">2</text>
<circle cx="882.3" cy="397.0" r="8.0" fill="#fff"/><circle cx="882.3" cy="397.0" r="7.4" fill="#0d0a0b"/>
<text x="882.3" y="401.7" text-anchor="middle" font-family="Liberation Sans" font-weight="bold" font-size="13.2" fill="#fff">3</text>
</svg>
<div class="pill" style="left:34px;top:37px;width:154.0px;height:52.2px;background:#25b7cd;border-radius:17.0px"></div>
<div class="pill" style="left:34px;top:109.6px;width:151.2px;height:34.8px;background:#25b7cd;border-radius:17.4px"></div>
<div class="pill" style="left:34px;top:173.8px;width:150.6px;height:34.8px;background:#25b7cd;border-radius:17.4px"></div>
<div class="pill" style="left:34px;top:238px;width:140.2px;height:34.6px;background:#25b7cd;border-radius:17.3px"></div>
<div class="pill" style="left:34px;top:302.2px;width:150.4px;height:34.8px;background:#25b7cd;border-radius:17.4px"></div>
<div class="pill" style="left:34px;top:366.8px;width:150.4px;height:34.6px;background:#25b7cd;border-radius:17.3px"></div>
<div class="pill" style="left:534px;top:48.9px;width:149.6px;height:33.8px;background:#6a9ad1;border-radius:16.9px"></div>
<div class="pill" style="left:534px;top:113px;width:149.6px;height:34.0px;background:#6a9ad1;border-radius:17.0px"></div>
<div class="pill" style="left:534px;top:177.4px;width:143.8px;height:34.2px;background:#6a9ad1;border-radius:17.1px"></div>
<div class="pill" style="left:533.6px;top:498.6px;width:145.8px;height:34.5px;background:#796ab0;border-radius:17.2px"></div>
<div class="pill" style="left:533.6px;top:553.8px;width:148.4px;height:52.0px;background:#796ab0;border-radius:17.0px"></div>
<div class="pill" style="left:533.6px;top:627.3px;width:144.4px;height:34.2px;background:#796ab0;border-radius:17.1px"></div>
<div class="cn" style="left:43.7px;top:47.7px;width:13.0px;height:13.0px;line-height:14.0px;color:#25b7cd;font-size:11px">5</div>
<div class="cn" style="left:44.2px;top:120.0px;width:13.6px;height:13.6px;line-height:14.6px;color:#25b7cd;font-size:11px">6</div>
<div class="cn" style="left:44.0px;top:184.4px;width:13.5px;height:13.5px;line-height:14.5px;color:#25b7cd;font-size:11px">7</div>
<div class="cn" style="left:44.0px;top:248.7px;width:13.5px;height:13.5px;line-height:14.5px;color:#25b7cd;font-size:11px">8</div>
<div class="cn" style="left:44.1px;top:312.9px;width:13.6px;height:13.6px;line-height:14.6px;color:#25b7cd;font-size:11px">9</div>
<div class="cn" style="left:44.1px;top:377.3px;width:13.8px;height:13.8px;line-height:14.8px;color:#25b7cd;font-size:8.5px">10</div>
<div class="cn" style="left:544.6px;top:59.2px;width:13.6px;height:13.6px;line-height:14.6px;color:#6a9ad1;font-size:11px">1</div>
<div class="cn" style="left:544.3px;top:123.6px;width:13.6px;height:13.6px;line-height:14.6px;color:#6a9ad1;font-size:11px">2</div>
<div class="cn" style="left:544.3px;top:188.0px;width:13.6px;height:13.6px;line-height:14.6px;color:#6a9ad1;font-size:11px">3</div>
<div class="cn" style="left:543.4px;top:509.1px;width:13.8px;height:13.8px;line-height:14.8px;color:#796ab0;font-size:11px">1</div>
<div class="cn" style="left:543.8px;top:565.3px;width:13.8px;height:13.8px;line-height:14.8px;color:#796ab0;font-size:11px">2</div>
<div class="cn" style="left:543.5px;top:637.5px;width:13.8px;height:13.8px;line-height:14.8px;color:#796ab0;font-size:11px">3</div>
<div class="fl" style="left:39.3px;top:458.3px;width:52.2px;height:52.2px;background:#6a9ad1"></div>
<div class="fl" style="left:538.1px;top:256.2px;width:52.2px;height:52.2px;background:#796ab0"></div>
<div class="pt" style="left:56.21px;top:49.40px;font-size:12.5px;font-weight:bold;transform:scaleX(0.7936)">日本経済留学生連合(DAN5)</div>
<div class="pt" style="left:57.10px;top:66.80px;font-size:12.5px;font-weight:bold;transform:scaleX(0.7007)">タピオカ白玉ミルクティー</div>
<div class="pt" style="left:57.90px;top:119.50px;font-size:14px;font-weight:bold;transform:scaleX(0.7048)">飯星ゼミナール　いももち</div>
<div class="pt" style="left:57.90px;top:186.00px;font-size:13.5px;font-weight:bold;transform:scaleX(0.7649)">新企画　フライドポテト</div>
<div class="pt" style="left:57.90px;top:249.00px;font-size:14px;font-weight:bold;transform:scaleX(0.9411)">新企画　ワッフル</div>
<div class="pt" style="left:61.74px;top:313.50px;font-size:14px;font-weight:bold;transform:scaleX(0.7644)">Be すけっと　飲料販売</div>
<div class="pt" style="left:57.85px;top:379.60px;font-size:13.5px;font-weight:bold;transform:scaleX(0.7451)">山口ゼミナール　かき氷</div>
<div class="pt" style="left:559.00px;top:60.20px;font-size:14.5px;font-weight:bold;transform:scaleX(0.9607)">競技ダンス部</div>
<div class="pt" style="left:558.40px;top:124.90px;font-size:14.5px;font-weight:bold;transform:scaleX(0.9578)">軽音楽同好会</div>
<div class="pt" style="left:557.58px;top:188.50px;font-size:14.5px;font-weight:bold;transform:scaleX(0.8205)">ギターオーケストラ</div>
<div class="pt" style="left:560.47px;top:508.70px;font-size:14.6px;font-weight:normal;transform:scaleX(1.0303)">ECO ROCK</div>
<div class="pt" style="left:561.01px;top:566.20px;font-size:14.6px;font-weight:normal;transform:scaleX(0.9912)">NUCE カラオケ</div>
<div class="pt" style="left:557.28px;top:582.10px;font-size:14.6px;font-weight:normal;transform:scaleX(0.9606)">コンテスト 2025</div>
<div class="pt" style="left:560.97px;top:637.70px;font-size:14.6px;font-weight:normal;transform:scaleX(1.0294)">LIVE IN MISAKI</div>
<div class="pt" style="left:46.83px;top:474.28px;font-size:19px;font-weight:bold;transform:scale(1.2667,1.0385)">6</div>
<div class="pt" style="left:63.60px;top:477.10px;font-size:17px;font-weight:bold;transform:scale(1.0000,0.8882)">階</div>
<div class="pt" style="left:545.36px;top:271.38px;font-size:19px;font-weight:bold;transform:scale(1.2444,1.1077)">7</div>
<div class="pt" style="left:562.58px;top:274.70px;font-size:17px;font-weight:bold;transform:scale(1.0187,0.9118)">階</div>
<div class="ln" style="left:199.5px;top:38.40px;width:263px"><span class="lt">DAN5</span> では、もっちり白玉とタピオカが入った特製ミルク</div>
<div class="ln" style="left:199.5px;top:51.00px;width:263px">ティーを販売します。中国風の甘さと食感が楽しめる一杯で、</div>
<div class="ln" style="left:199.5px;top:63.60px;width:263px">秋のひとときをあたたかく彩ります。是非 <span class="lt">DAN5</span> にお立ち寄</div>
<div class="ln last" style="left:199.5px;top:76.20px;width:263px">りください。</div>
<div class="ln" style="left:199.5px;top:115.80px;width:263px">ゼミの団結力、いももちに全力投下！カリッ＆モチッの最強</div>
<div class="ln last" style="left:199.5px;top:128.40px;width:263px">おやつ、正直リピ確です。（裏オブあります。）</div>
<div class="ln" style="left:199.5px;top:167.20px;width:263px">揚げたてカリカリの文化祭定番のフライドポテト！！豊富なフ</div>
<div class="ln" style="left:199.5px;top:179.80px;width:263px">レーバーからお好きな味を選んでください！！美味しすぎて食</div>
<div class="ln" style="left:199.5px;top:192.40px;width:263px">べる手が止まらなくなるかも、売り切れる前に是非お越しく</div>
<div class="ln last" style="left:199.5px;top:205.00px;width:263px">ださい！！</div>
<div class="ln" style="left:199.5px;top:237.20px;width:263px">サクッとした食感がクセになる揚げワッフル！他では食べる</div>
<div class="ln" style="left:199.5px;top:249.80px;width:263px">ことができない揚げワッフルの虜になってみてはいかがです</div>
<div class="ln last" style="left:199.5px;top:262.40px;width:263px">か？</div>
<div class="ln" style="left:199.5px;top:296.10px;width:263px">本館 <span class="lt">53</span> 番教室ではフロートを販売しています。甘くて冷た</div>
<div class="ln" style="left:199.5px;top:308.70px;width:263px">いドリンクで気分もリフレッシュ！！また、本館 <span class="lt">31</span> 番教室・</div>
<div class="ln" style="left:199.5px;top:321.30px;width:263px"><span class="lt">32</span> 番教室では福祉体験コーナーも開催しています。是非お</div>
<div class="ln last" style="left:199.5px;top:333.90px;width:263px">立ち寄りください。</div>
<div class="ln" style="left:199.5px;top:372.90px;width:263px">ひんやり冷たいフローズンスイーツです！涼しくなってきたこ</div>
<div class="ln last" style="left:199.5px;top:385.50px;width:263px">の時期だからこそ今年最後のかき氷、食べてみませんか？</div>
<div class="ln" style="left:700.3px;top:41.30px;width:263px">華やかで迫力ある競技ダンスの世界へようこそ！なかなか普</div>
<div class="ln" style="left:700.3px;top:53.90px;width:263px">段目にすることのない人も多いかもしれません。でも一度見</div>
<div class="ln" style="left:700.3px;top:66.50px;width:263px">れば息の合った躍動感に引き込まれるはず！あなたの想像を</div>
<div class="ln last" style="left:700.3px;top:79.10px;width:263px">超える感動が、きっと待ってます！！！</div>
<div class="ln" style="left:700.3px;top:112.10px;width:263px">軽音楽同好会です！文化祭では教室ライブ（<span class="lt">6</span> 階小体育館）</div>
<div class="ln" style="left:700.3px;top:124.70px;width:263px">と <span class="lt">ECO</span> <span class="lt">ROCK</span>（<span class="lt">7</span> 階大講堂）で演奏しています！是非来て</div>
<div class="ln last" style="left:700.3px;top:137.30px;width:263px">ください！</div>
<div class="ln" style="left:700.3px;top:170.40px;width:263px">日頃より個人ないしはバンドにて練習を行ってきた成果を皆</div>
<div class="ln" style="left:700.3px;top:183.00px;width:263px">さんにお見せできる数少ない機会ですので、是非ともお越し</div>
<div class="ln" style="left:700.3px;top:195.60px;width:263px">ください！個性派のメンバーが揃っており、盛り上がること間</div>
<div class="ln last" style="left:700.3px;top:208.20px;width:263px">違いなしです！</div>
<div class="ln" style="left:700.3px;top:492.30px;width:263px"><span class="lt">ECOROCK</span> は大講堂で行う軽音楽 <span class="lt">LIVE</span> です。経済学部所</div>
<div class="ln" style="left:700.3px;top:504.90px;width:263px">属の全 <span class="lt">5</span> サークルが <span class="lt">3</span> 時間半に渡って三崎祭を <span class="lt">1</span> 番盛り上</div>
<div class="ln" style="left:700.3px;top:517.50px;width:263px">げます！！！全力で演奏させていただきますので、是非ご来場</div>
<div class="ln last" style="left:700.3px;top:530.10px;width:263px">ください！！興味ある人全員来て！！！</div>
<div class="ln" style="left:700.3px;top:561.30px;width:263px">今年初の企画として、<span class="lt">NUCE</span> カラオケコンテストを開催しま</div>
<div class="ln" style="left:700.3px;top:573.90px;width:263px">す！日本大学経済学部生による歌声を是非会場でお楽しみく</div>
<div class="ln last" style="left:700.3px;top:586.50px;width:263px">ださい！お待ちしております！</div>
<div class="ln" style="left:700.3px;top:619.50px;width:263px">今年の <span class="lt">LIVE</span> <span class="lt">IN</span> <span class="lt">MISAKI</span> は、特別ゲストとして <span class="lt">wacci</span> をお</div>
<div class="ln" style="left:700.3px;top:632.10px;width:263px">迎えし、ライブを開催します。幅広い世代に愛される温かい</div>
<div class="ln" style="left:700.3px;top:644.70px;width:263px">楽曲と心地よい歌声が、会場をやさしく包み込み、文化祭全</div>
<div class="ln last" style="left:700.3px;top:657.30px;width:263px">体を盛り上げます。</div>
<div class="pg" style="left:32.5px;top:682px">9</div>
<div class="pg" style="left:958.5px;top:682px">10</div>
</body></html>
